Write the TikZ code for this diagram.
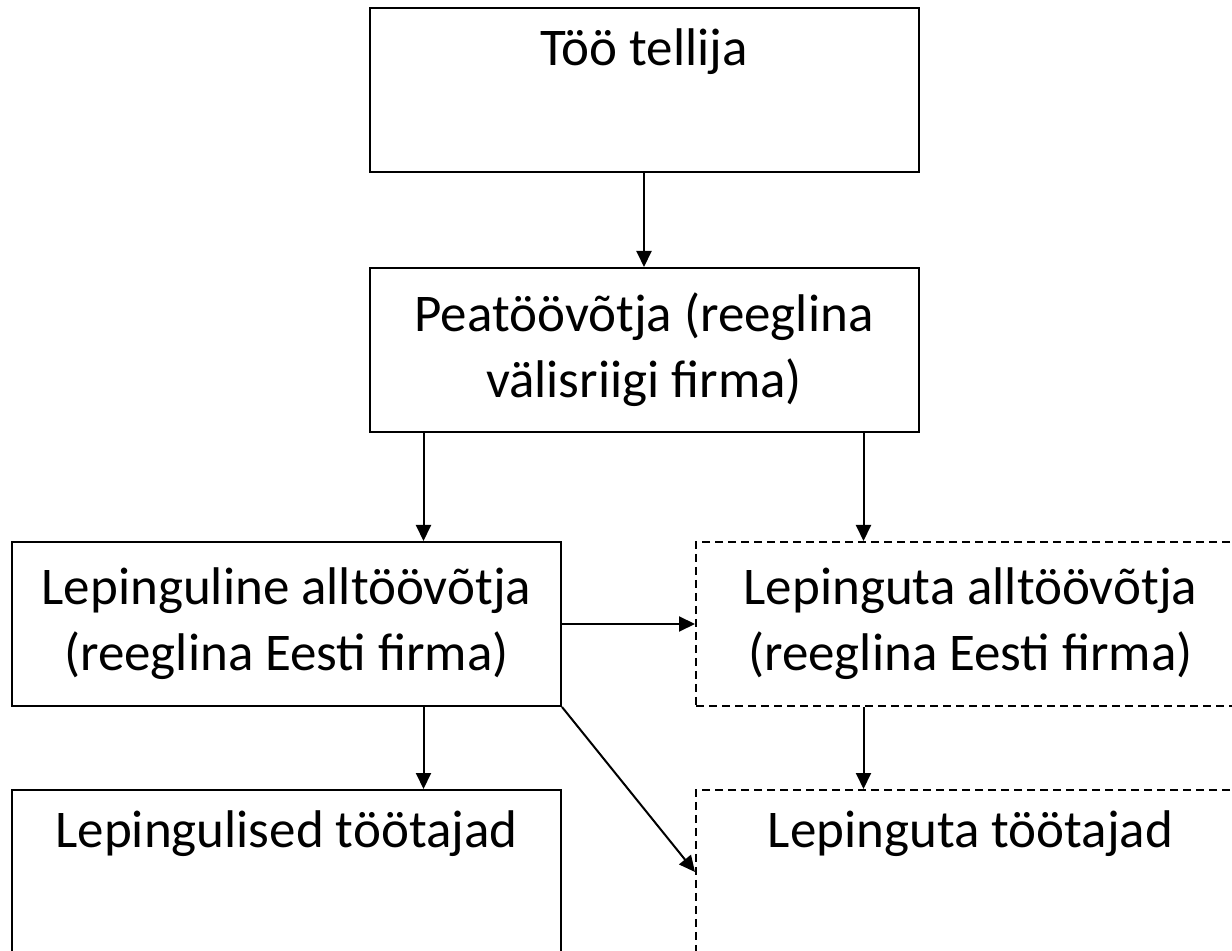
\documentclass[tikz,border=0pt]{standalone}
\usepackage{fontspec}
\setmainfont{Carlito}
\usepackage{tikz}
\usetikzlibrary{arrows.meta,positioning,calc}

\begin{document}
\begin{tikzpicture}[x=0.5pt, y=-0.5pt,
        orgbox/.style={draw, line width=1pt, minimum width=274.5pt, minimum height=82pt,
            inner sep=0pt, align=center, font=\fontsize{26.5}{33}\selectfont},
        nolep/.style={orgbox, dash pattern=on 4pt off 2.5pt},
        arr/.style={line width=1pt, -{Triangle[length=8pt, width=7.5pt]}}]
        % Frame
        \useasboundingbox (0,0) rectangle (1232,951);
        \clip (0,0) rectangle (1232,951);

        % Top levels
        \node[orgbox] (tellija) at (644,90) {Töö tellija\\ \strut};
        \node[orgbox] (peatoo) at (644,350) {Peatöövõtja (reeglina\\välisriigi firma)};

        % Subcontractors
        \node[orgbox] (lepalt) at (286.5,624) {Lepinguline alltöövõtja\\(reeglina Eesti firma)};
        \node[nolep] (mittealt) at (970.5,624) {Lepinguta alltöövõtja\\(reeglina Eesti firma)};

        % Workers
        \node[orgbox] (leptoo) at (286.5,872) {Lepingulised töötajad\\ \strut};
        \node[nolep] (mittetoo) at (970.5,872) {Lepinguta töötajad\\ \strut};

        % Arrows
        \draw[arr] (tellija) -- (peatoo);
        \path (peatoo.south west) ++(55,0) coordinate (vas);
        \path (peatoo.south east) ++(-56,0) coordinate (par);
        \draw[arr] (vas) -- (vas |- lepalt.north);
        \draw[arr] (par) -- (par |- mittealt.north);
        \draw[arr] (lepalt) -- (mittealt);
        \draw[arr] (vas |- lepalt.south) -- (vas |- leptoo.north);
        \draw[arr] (par |- mittealt.south) -- (par |- mittetoo.north);
        \draw[arr] (lepalt.south east) -- (mittetoo.west);
\end{tikzpicture}
\end{document}
